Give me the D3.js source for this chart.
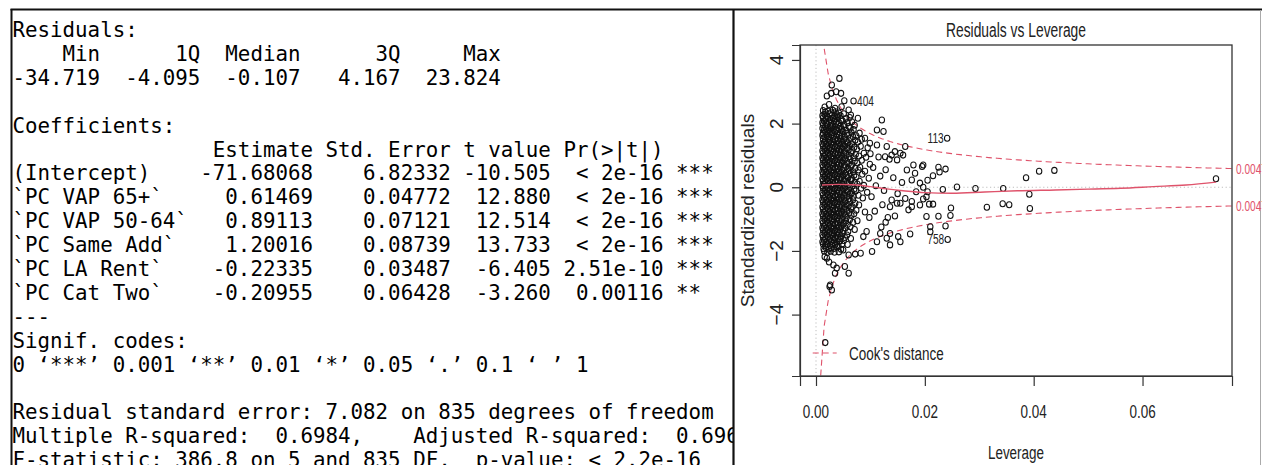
<!DOCTYPE html>
<html>
<head>
<meta charset="utf-8">
<script src="https://cdn.jsdelivr.net/npm/d3@7"></script>
<style>
  html, body { margin: 0; padding: 0; background: #fff; overflow: hidden; }
  svg { display: block; }
</style>
</head>
<body>
<svg id="chart" width="1262" height="465"></svg>
<script>
// ---- Console output of summary(lm(...)) ----
const summaryLines = [
  "Residuals:",
  "    Min      1Q  Median      3Q     Max ",
  "-34.719  -4.095  -0.107   4.167  23.824 ",
  "",
  "Coefficients:",
  "                Estimate Std. Error t value Pr(>|t|)    ",
  "(Intercept)    -71.68068    6.82332 -10.505  < 2e-16 ***",
  "`PC VAP 65+`     0.61469    0.04772  12.880  < 2e-16 ***",
  "`PC VAP 50-64`   0.89113    0.07121  12.514  < 2e-16 ***",
  "`PC Same Add`    1.20016    0.08739  13.733  < 2e-16 ***",
  "`PC LA Rent`    -0.22335    0.03487  -6.405 2.51e-10 ***",
  "`PC Cat Two`    -0.20955    0.06428  -3.260  0.00116 ** ",
  "---",
  "Signif. codes:",
  "0 \u2018***\u2019 0.001 \u2018**\u2019 0.01 \u2018*\u2019 0.05 \u2018.\u2019 0.1 \u2018 \u2019 1",
  "",
  "Residual standard error: 7.082 on 835 degrees of freedom",
  "Multiple R-squared:  0.6984,    Adjusted R-squared:  0.6966 ",
  "F-statistic: 386.8 on 5 and 835 DF,  p-value: < 2.2e-16"
];

// ---- Residuals vs Leverage: [leverage, standardized residual] ----
const points = [
  // upper tail
  [0.0043,3.42],[0.0029,3.21],[0.0020,2.87],[0.0028,2.95],[0.0037,3.00],[0.0046,2.95],[0.0052,2.72],
  [0.0035,2.48],[0.0047,2.53],[0.0060,2.43],[0.0077,2.17],[0.0064,2.27],[0.0016,2.52],[0.0024,2.60],
  // main body
  [0.0013,2.41],[0.0017,2.36],[0.0022,2.39],[0.0027,2.34],[0.0031,2.42],[0.0036,2.37],[0.0042,2.33],
  [0.0012,2.25],[0.0016,2.29],[0.0020,2.24],[0.0025,2.30],[0.0029,2.26],[0.0034,2.23],[0.0039,2.28],[0.0045,2.25],[0.0051,2.31],
  [0.0013,2.18],[0.0018,2.14],[0.0022,2.19],[0.0026,2.13],[0.0031,2.17],[0.0035,2.15],[0.0040,2.20],[0.0047,2.12],[0.0055,2.16],[0.0062,2.19],
  [0.0012,2.03],[0.0015,2.08],[0.0019,2.02],[0.0024,2.06],[0.0028,2.01],[0.0033,2.07],[0.0037,2.04],[0.0043,2.02],[0.0049,2.08],[0.0058,2.03],[0.0066,2.06],
  [0.0013,1.96],[0.0017,1.91],[0.0021,1.97],[0.0026,1.93],[0.0030,1.95],[0.0035,1.90],[0.0040,1.97],[0.0045,1.92],[0.0052,1.96],[0.0060,1.91],[0.0071,1.95],
  [0.0012,1.85],[0.0015,1.80],[0.0019,1.84],[0.0023,1.81],[0.0028,1.86],[0.0032,1.82],[0.0037,1.80],[0.0042,1.85],[0.0048,1.83],[0.0055,1.79],[0.0063,1.86],[0.0069,1.81],
  [0.0013,1.70],[0.0017,1.74],[0.0021,1.69],[0.0025,1.73],[0.0030,1.71],[0.0034,1.75],[0.0039,1.68],[0.0044,1.72],[0.0050,1.74],[0.0057,1.69],[0.0065,1.73],[0.0080,1.70],
  [0.0012,1.63],[0.0016,1.58],[0.0020,1.62],[0.0024,1.59],[0.0028,1.64],[0.0033,1.60],[0.0038,1.57],[0.0043,1.63],[0.0047,1.61],[0.0053,1.58],[0.0060,1.64],[0.0068,1.59],[0.0074,1.62],
  [0.0013,1.52],[0.0017,1.47],[0.0022,1.51],[0.0026,1.48],[0.0031,1.53],[0.0035,1.49],[0.0040,1.46],[0.0045,1.52],[0.0051,1.50],[0.0056,1.47],[0.0063,1.53],[0.0072,1.48],[0.0084,1.51],
  [0.0012,1.37],[0.0015,1.41],[0.0019,1.36],[0.0024,1.40],[0.0028,1.38],[0.0032,1.42],[0.0037,1.35],[0.0042,1.39],[0.0048,1.41],[0.0054,1.36],[0.0059,1.40],[0.0066,1.37],[0.0077,1.42],
  [0.0013,1.30],[0.0017,1.25],[0.0021,1.29],[0.0025,1.26],[0.0030,1.31],[0.0035,1.27],[0.0039,1.24],[0.0044,1.30],[0.0050,1.28],[0.0057,1.25],[0.0062,1.31],[0.0070,1.26],[0.0082,1.29],[0.0095,1.24],
  [0.0012,1.15],[0.0016,1.19],[0.0020,1.14],[0.0024,1.18],[0.0028,1.16],[0.0033,1.20],[0.0037,1.13],[0.0042,1.17],[0.0047,1.19],[0.0053,1.14],[0.0060,1.18],[0.0067,1.15],[0.0075,1.20],
  [0.0013,1.08],[0.0017,1.03],[0.0022,1.07],[0.0026,1.04],[0.0031,1.09],[0.0035,1.05],[0.0040,1.02],[0.0045,1.08],[0.0051,1.06],[0.0056,1.03],[0.0064,1.09],[0.0073,1.04],[0.0088,1.07],
  [0.0012,0.93],[0.0015,0.97],[0.0019,0.92],[0.0023,0.96],[0.0028,0.94],[0.0032,0.98],[0.0037,0.91],[0.0043,0.95],[0.0048,0.97],[0.0054,0.92],[0.0061,0.96],[0.0069,0.93],[0.0079,0.98],[0.0092,0.94],
  [0.0013,0.86],[0.0017,0.81],[0.0021,0.85],[0.0025,0.82],[0.0030,0.87],[0.0034,0.83],[0.0039,0.80],[0.0044,0.86],[0.0050,0.84],[0.0057,0.81],[0.0063,0.87],[0.0071,0.82],[0.0084,0.85],
  [0.0012,0.71],[0.0016,0.75],[0.0020,0.70],[0.0024,0.74],[0.0029,0.72],[0.0033,0.76],[0.0038,0.69],[0.0042,0.73],[0.0047,0.75],[0.0053,0.70],[0.0060,0.74],[0.0066,0.71],[0.0076,0.76],[0.0099,0.72],
  [0.0013,0.64],[0.0017,0.59],[0.0022,0.63],[0.0026,0.60],[0.0031,0.65],[0.0035,0.61],[0.0040,0.58],[0.0045,0.64],[0.0051,0.62],[0.0058,0.59],[0.0064,0.65],[0.0072,0.60],[0.0081,0.63],
  [0.0012,0.49],[0.0015,0.53],[0.0019,0.48],[0.0024,0.52],[0.0028,0.50],[0.0032,0.54],[0.0037,0.47],[0.0042,0.51],[0.0048,0.53],[0.0055,0.48],[0.0061,0.52],[0.0068,0.49],[0.0078,0.54],[0.0090,0.50],
  [0.0013,0.42],[0.0017,0.37],[0.0021,0.41],[0.0025,0.38],[0.0030,0.43],[0.0034,0.39],[0.0039,0.36],[0.0044,0.42],[0.0050,0.40],[0.0056,0.37],[0.0063,0.43],[0.0070,0.38],[0.0085,0.41],
  [0.0012,0.27],[0.0016,0.31],[0.0020,0.26],[0.0024,0.30],[0.0029,0.28],[0.0033,0.32],[0.0038,0.25],[0.0043,0.29],[0.0047,0.31],[0.0053,0.26],[0.0059,0.30],[0.0066,0.27],[0.0074,0.32],[0.0097,0.28],
  [0.0013,0.20],[0.0017,0.15],[0.0022,0.19],[0.0026,0.16],[0.0031,0.21],[0.0035,0.17],[0.0040,0.14],[0.0045,0.20],[0.0051,0.18],[0.0057,0.15],[0.0064,0.21],[0.0071,0.16],[0.0080,0.19],
  [0.0012,0.05],[0.0015,0.09],[0.0019,0.04],[0.0023,0.08],[0.0028,0.06],[0.0032,0.10],[0.0037,0.03],[0.0042,0.07],[0.0048,0.09],[0.0054,0.04],[0.0060,0.08],[0.0067,0.05],[0.0076,0.10],[0.0088,0.06],
  [0.0013,-0.02],[0.0017,-0.07],[0.0021,-0.03],[0.0025,-0.06],[0.0030,-0.01],[0.0034,-0.05],[0.0039,-0.08],[0.0044,-0.02],[0.0050,-0.04],[0.0056,-0.07],[0.0062,-0.01],[0.0070,-0.06],[0.0083,-0.03],
  [0.0012,-0.17],[0.0016,-0.13],[0.0020,-0.18],[0.0024,-0.14],[0.0029,-0.16],[0.0033,-0.12],[0.0038,-0.19],[0.0043,-0.15],[0.0048,-0.13],[0.0053,-0.18],[0.0059,-0.14],[0.0066,-0.17],[0.0073,-0.12],[0.0094,-0.16],
  [0.0013,-0.24],[0.0017,-0.29],[0.0022,-0.25],[0.0026,-0.28],[0.0031,-0.23],[0.0035,-0.27],[0.0040,-0.30],[0.0045,-0.24],[0.0051,-0.26],[0.0057,-0.29],[0.0063,-0.23],[0.0069,-0.28],[0.0078,-0.25],
  [0.0012,-0.39],[0.0015,-0.35],[0.0019,-0.40],[0.0024,-0.36],[0.0028,-0.38],[0.0032,-0.34],[0.0037,-0.41],[0.0042,-0.37],[0.0047,-0.35],[0.0054,-0.40],[0.0061,-0.36],[0.0068,-0.39],[0.0086,-0.34],
  [0.0013,-0.46],[0.0017,-0.51],[0.0021,-0.47],[0.0025,-0.50],[0.0030,-0.45],[0.0034,-0.49],[0.0039,-0.52],[0.0044,-0.46],[0.0050,-0.48],[0.0056,-0.51],[0.0062,-0.45],[0.0072,-0.50],
  [0.0012,-0.61],[0.0016,-0.57],[0.0020,-0.62],[0.0024,-0.58],[0.0029,-0.60],[0.0033,-0.56],[0.0038,-0.63],[0.0043,-0.59],[0.0048,-0.57],[0.0053,-0.62],[0.0060,-0.58],[0.0067,-0.61],[0.0079,-0.56],
  [0.0013,-0.68],[0.0017,-0.73],[0.0022,-0.69],[0.0026,-0.72],[0.0031,-0.67],[0.0035,-0.71],[0.0040,-0.74],[0.0045,-0.68],[0.0051,-0.70],[0.0057,-0.73],[0.0064,-0.67],[0.0074,-0.72],
  [0.0012,-0.83],[0.0015,-0.79],[0.0019,-0.84],[0.0024,-0.80],[0.0028,-0.82],[0.0032,-0.78],[0.0037,-0.85],[0.0042,-0.81],[0.0047,-0.79],[0.0054,-0.84],[0.0061,-0.80],[0.0070,-0.83],[0.0090,-0.78],
  [0.0013,-0.90],[0.0017,-0.95],[0.0021,-0.91],[0.0025,-0.94],[0.0030,-0.89],[0.0034,-0.93],[0.0039,-0.96],[0.0044,-0.90],[0.0050,-0.92],[0.0056,-0.95],[0.0065,-0.89],
  [0.0012,-1.05],[0.0016,-1.01],[0.0020,-1.06],[0.0024,-1.02],[0.0029,-1.04],[0.0033,-1.00],[0.0038,-1.07],[0.0043,-1.03],[0.0048,-1.01],[0.0055,-1.06],[0.0062,-1.02],[0.0076,-1.05],
  [0.0013,-1.12],[0.0017,-1.17],[0.0022,-1.13],[0.0026,-1.16],[0.0031,-1.11],[0.0035,-1.15],[0.0040,-1.18],[0.0045,-1.12],[0.0051,-1.14],[0.0058,-1.17],[0.0068,-1.11],
  [0.0012,-1.27],[0.0015,-1.23],[0.0019,-1.28],[0.0024,-1.24],[0.0028,-1.26],[0.0032,-1.22],[0.0037,-1.29],[0.0042,-1.25],[0.0047,-1.23],[0.0054,-1.28],[0.0063,-1.24],
  [0.0013,-1.34],[0.0017,-1.39],[0.0021,-1.35],[0.0025,-1.38],[0.0030,-1.33],[0.0034,-1.37],[0.0039,-1.40],[0.0044,-1.34],[0.0050,-1.36],[0.0059,-1.39],[0.0071,-1.33],
  [0.0012,-1.49],[0.0016,-1.45],[0.0020,-1.50],[0.0024,-1.46],[0.0029,-1.48],[0.0033,-1.44],[0.0038,-1.51],[0.0043,-1.47],[0.0049,-1.45],[0.0057,-1.50],
  [0.0013,-1.56],[0.0017,-1.61],[0.0022,-1.57],[0.0026,-1.60],[0.0031,-1.55],[0.0035,-1.59],[0.0040,-1.62],[0.0046,-1.56],[0.0053,-1.58],[0.0064,-1.61],
  [0.0012,-1.71],[0.0015,-1.67],[0.0019,-1.72],[0.0024,-1.68],[0.0028,-1.70],[0.0033,-1.66],[0.0038,-1.73],[0.0044,-1.69],[0.0051,-1.67],
  [0.0013,-1.78],[0.0017,-1.83],[0.0021,-1.79],[0.0026,-1.82],[0.0030,-1.77],[0.0035,-1.81],[0.0041,-1.84],[0.0048,-1.78],[0.0058,-1.80],
  [0.0014,-1.93],[0.0018,-1.89],[0.0023,-1.94],[0.0028,-1.90],[0.0033,-1.92],[0.0039,-1.88],[0.0046,-1.95],
  [0.0015,-2.00],[0.0021,-2.05],[0.0027,-2.01],[0.0034,-2.04],[0.0042,-2.03],
  // thinner region, moderate leverage
  [0.0121,2.11],[0.0112,1.80],[0.0124,1.75],[0.0090,1.54],[0.0099,1.38],[0.0112,1.33],[0.0130,1.28],
  [0.0145,1.12],[0.0155,1.07],[0.0164,1.28],[0.0139,1.01],[0.0135,0.88],[0.0149,0.86],[0.0160,1.01],
  [0.0179,0.70],[0.0182,0.44],[0.0167,0.54],[0.0176,0.23],[0.0191,0.13],[0.0127,0.96],[0.0195,0.65],
  [0.0105,0.62],[0.0118,0.35],[0.0110,0.05],[0.0125,-0.10],[0.0102,-0.30],[0.0115,0.95],[0.0128,0.55],
  [0.0108,-0.75],[0.0122,-0.55],[0.0132,-0.95],[0.0100,1.05],[0.0142,0.30],[0.0150,-0.20],[0.0158,0.15],
  [0.0155,-0.50],[0.0149,-0.50],[0.0164,-0.35],[0.0139,-0.40],[0.0176,-0.45],[0.0191,-0.56],[0.0170,-0.71],
  [0.0203,-0.92],[0.0184,-0.14],[0.0203,-0.30],[0.0128,-1.10],[0.0098,-0.95],[0.0145,-0.90],[0.0120,-1.25],
  [0.0136,-0.61],[0.0176,-0.61],
  [0.0173,-1.47],[0.0155,-1.71],[0.0136,-1.81],[0.0130,-1.60],[0.0103,-2.02],[0.0082,-2.07],[0.0072,-2.10],
  [0.0060,-2.13],[0.0050,-1.97],[0.0112,-1.71],[0.0087,-1.55],[0.0093,-1.39],[0.0118,-1.45],[0.0136,-1.45],[0.0151,-1.55],
  // lower tail
  [0.0020,-2.23],[0.0032,-2.44],[0.0038,-2.54],[0.0035,-2.70],[0.0053,-2.49],[0.0060,-2.70],[0.0026,-3.07],
  [0.0029,-3.23],[0.0025,-3.12],[0.0017,-4.88],[0.0016,-2.18],[0.0024,-2.35],
  // high leverage
  [0.0197,0.70],[0.0225,0.63],[0.0238,0.57],[0.0227,0.48],[0.0215,0.36],[0.0205,0.22],[0.0197,0.00],
  [0.0205,-0.14],[0.0233,-0.07],[0.0259,0.01],[0.0293,-0.04],[0.0344,-0.04],[0.0386,0.30],[0.0410,0.50],
  [0.0438,0.53],[0.0735,0.27],[0.0392,-0.22],[0.0393,-0.67],[0.0343,-0.52],[0.0355,-0.55],[0.0314,-0.63],
  [0.0248,-0.65],[0.0247,-0.89],[0.0225,-0.91],[0.0238,-1.22],[0.0210,-1.24],[0.0197,-0.37],[0.0208,-0.53],
  [0.0215,-0.53],[0.0210,-1.40]
];

// Observations flagged by Cook's distance
const idLabels   = ["404", "113", "758"];
const idLeverage = [0.0069, 0.0241, 0.0242];
const idResidual = [2.71, 1.54, -1.64];

// lowess smoother through the residuals
const smoothLev = [0.0011, 0.004, 0.007, 0.010, 0.013, 0.016, 0.020, 0.025, 0.031, 0.037, 0.044, 0.050, 0.056, 0.062, 0.068, 0.0735];
const smoothRes = [0.07, 0.09, 0.08, 0.02, -0.05, -0.11, -0.17, -0.19, -0.15, -0.11, -0.085, -0.06, -0.03, 0.02, 0.07, 0.16];

const xTicks = [0, 0.02, 0.04, 0.06];
const yTicks = [-4, -2, 0, 2, 4];
const modelRank = 6;
const cookLevels = [4 / 841];

// ---------------------------------------------------------------
const svg = d3.select("#chart");
const W = 1262, H = 465;
svg.append("rect").attr("width", W).attr("height", H).attr("fill", "#fff");
const defs = svg.append("defs");

// ---- left panel: console text ----
defs.append("clipPath").attr("id", "leftClip")
  .append("rect").attr("x", 12.5).attr("y", 10).attr("width", 720.5).attr("height", H);

const mono = svg.append("g").attr("clip-path", "url(#leftClip)")
  .attr("font-family", "'DejaVu Sans Mono', 'Liberation Mono', monospace")
  .attr("font-size", 20.8)
  .attr("fill", "#000");

const lineY = d3.scaleLinear().domain([0, 1]).range([37, 60.9]);
mono.selectAll("text").data(summaryLines).join("text")
  .attr("x", 12.5)
  .attr("y", (d, i) => lineY(i))
  .style("white-space", "pre")
  .text(d => d);

// ---- frame lines ----
const frame = svg.append("g").attr("fill", "none");
frame.append("line").attr("x1", 10.5).attr("x2", W).attr("y1", 9.5).attr("y2", 9.5)
  .attr("stroke", "#111").attr("stroke-width", 2);
frame.append("line").attr("x1", 11.5).attr("x2", 11.5).attr("y1", 9).attr("y2", H)
  .attr("stroke", "#111").attr("stroke-width", 2);
frame.append("line").attr("x1", 733.5).attr("x2", 733.5).attr("y1", 9).attr("y2", H)
  .attr("stroke", "#111").attr("stroke-width", 2.2);
frame.append("line").attr("x1", 1260.5).attr("x2", 1260.5).attr("y1", 10).attr("y2", H)
  .attr("stroke", "#aaa").attr("stroke-width", 1);

// ---- right panel: Residuals vs Leverage ----
const box = { left: 800, right: 1232, top: 45, bottom: 376 };
const sx = 0.71;               // narrow horizontal lettering
const red = "#DF536B";
const plotFont = "'Liberation Sans', Arial, sans-serif";

const allLev = points.map(d => d[0]).concat(idLeverage);
const allRes = points.map(d => d[1]).concat(idResidual);
const hMax = d3.max(allLev);
const xLim = [0, hMax];
const xPad = (xLim[1] - xLim[0]) * 0.04;
const rExt = d3.extent(allRes);
const rSpan = rExt[1] - rExt[0];
const yLim0 = [rExt[0] - 0.08 * rSpan, rExt[1] + 0.08 * rSpan];
const yPad = (yLim0[1] - yLim0[0]) * 0.04;

const x = d3.scaleLinear().domain([xLim[0] - xPad, xLim[1] + xPad]).range([box.left, box.right]);
const y = d3.scaleLinear().domain([yLim0[0] - yPad, yLim0[1] + yPad]).range([box.bottom, box.top]);

defs.append("clipPath").attr("id", "plotClip")
  .append("rect").attr("x", box.left).attr("y", box.top)
  .attr("width", box.right - box.left).attr("height", box.bottom - box.top);
defs.append("clipPath").attr("id", "rightClip")
  .append("rect").attr("x", 735).attr("y", 10).attr("width", W - 735).attr("height", H - 10);

const right = svg.append("g").attr("clip-path", "url(#rightClip)");
const plot = right.append("g").attr("clip-path", "url(#plotClip)");

// reference lines at h = 0 and r = 0
plot.append("line").attr("x1", x(0)).attr("x2", x(0)).attr("y1", box.top).attr("y2", box.bottom)
  .attr("stroke", "#bebebe").attr("stroke-width", 1).attr("stroke-dasharray", "1.2,2.6");
plot.append("line").attr("x1", box.left).attr("x2", box.right).attr("y1", y(0)).attr("y2", y(0))
  .attr("stroke", "#bebebe").attr("stroke-width", 1).attr("stroke-dasharray", "1.2,2.6");

// Cook's distance contours
const usr2 = x.domain()[1];
const hStart = Math.min(d3.min(allLev), hMax / 100);
const hh = d3.range(101).map(i => hStart + (usr2 - hStart) * i / 100);
const contour = d3.line().x(d => x(d[0])).y(d => y(d[1]));
cookLevels.forEach(crit => {
  [1, -1].forEach(sign => {
    plot.append("path")
      .attr("d", contour(hh.map(h => [h, sign * Math.sqrt(crit * modelRank * (1 - h) / h)])))
      .attr("fill", "none").attr("stroke", red).attr("stroke-width", 1.1)
      .attr("stroke-dasharray", "6,4");
  });
});

// points
const allPts = points.concat(idLeverage.map((h, i) => [h, idResidual[i]]));
plot.append("g").selectAll("ellipse").data(allPts).join("ellipse")
  .attr("cx", d => x(d[0])).attr("cy", d => y(d[1]))
  .attr("rx", 2.7).attr("ry", 3.0)
  .attr("fill", "none").attr("stroke", "#111").attr("stroke-width", 1.05);

// smoother
plot.append("path")
  .attr("d", d3.line().curve(d3.curveMonotoneX).x(d => x(d[0])).y(d => y(d[1]))(smoothLev.map((h, i) => [h, smoothRes[i]])))
  .attr("fill", "none").attr("stroke", red).attr("stroke-width", 1.4);

// plot box
right.append("rect").attr("x", box.left).attr("y", box.top)
  .attr("width", box.right - box.left).attr("height", box.bottom - box.top)
  .attr("fill", "none").attr("stroke", "#333").attr("stroke-width", 1.3);

// helper for narrow horizontal text
function hText(g, tx, ty, str, size, anchor, color) {
  return g.append("text")
    .attr("transform", `translate(${tx},${ty}) scale(${sx},1)`)
    .attr("text-anchor", anchor)
    .attr("font-family", plotFont).attr("font-size", size)
    .attr("fill", color || "#222")
    .text(str);
}

// x axis
const xAxis = right.append("g").attr("transform", `translate(0,${box.bottom})`)
  .call(d3.axisBottom(x).tickValues(xTicks).tickSize(10).tickFormat(""));
xAxis.select(".domain").attr("stroke", "#333").attr("stroke-width", 1.2);
xAxis.selectAll(".tick line").attr("stroke", "#333").attr("stroke-width", 1.2);
xTicks.forEach(t => hText(right, x(t), 418, d3.format(".2f")(t), 19, "middle"));

// y axis
const yAxis = right.append("g").attr("transform", `translate(${box.left},0)`)
  .call(d3.axisLeft(y).tickValues(yTicks).tickSize(8).tickFormat(""));
yAxis.select(".domain").attr("stroke", "#333").attr("stroke-width", 1.2);
yAxis.selectAll(".tick line").attr("stroke", "#333").attr("stroke-width", 1.2);
yTicks.forEach(t => right.append("text")
  .attr("transform", `translate(783,${y(t)}) rotate(-90)`)
  .attr("text-anchor", "middle")
  .attr("font-family", plotFont).attr("font-size", 19).attr("fill", "#222")
  .text(d3.format("d")(t)));

// titles
const midX = (box.left + box.right) / 2;
hText(right, midX, 37, "Residuals vs Leverage", 19.5, "middle");
hText(right, midX, 459, "Leverage", 19, "middle");
right.append("text")
  .attr("transform", `translate(754,${(box.top + box.bottom) / 2}) rotate(-90)`)
  .attr("text-anchor", "middle")
  .attr("font-family", plotFont).attr("font-size", 19).attr("fill", "#222")
  .text("Standardized residuals");

// labels of flagged observations
idLabels.forEach((lab, i) => {
  const px = x(idLeverage[i]), py = y(idResidual[i]);
  const leftSide = idLeverage[i] > d3.mean(d3.extent(idLeverage));
  hText(right, leftSide ? px - 3.5 : px + 3.5, py + 5, lab, 14.25, leftSide ? "end" : "start");
});

// Cook's level labels on the right margin
const xm = Math.min(0.99, usr2);
const ymult = Math.sqrt(modelRank * (1 - xm) / xm);
cookLevels.forEach(c => {
  [1, -1].forEach(sign => {
    hText(right, box.right + 4, y(sign * Math.sqrt(c) * ymult) + 5, c.toPrecision(15), 14.25, "start", red);
  });
});

// legend
const lg = right.append("g");
lg.append("line").attr("x1", box.left + 12.7).attr("x2", box.left + 36.7)
  .attr("y1", box.bottom - 23).attr("y2", box.bottom - 23)
  .attr("stroke", red).attr("stroke-width", 1.1).attr("stroke-dasharray", "6,4");
hText(lg, box.left + 49, box.bottom - 16.5, "Cook's distance", 19, "start");
</script>
</body>
</html>
